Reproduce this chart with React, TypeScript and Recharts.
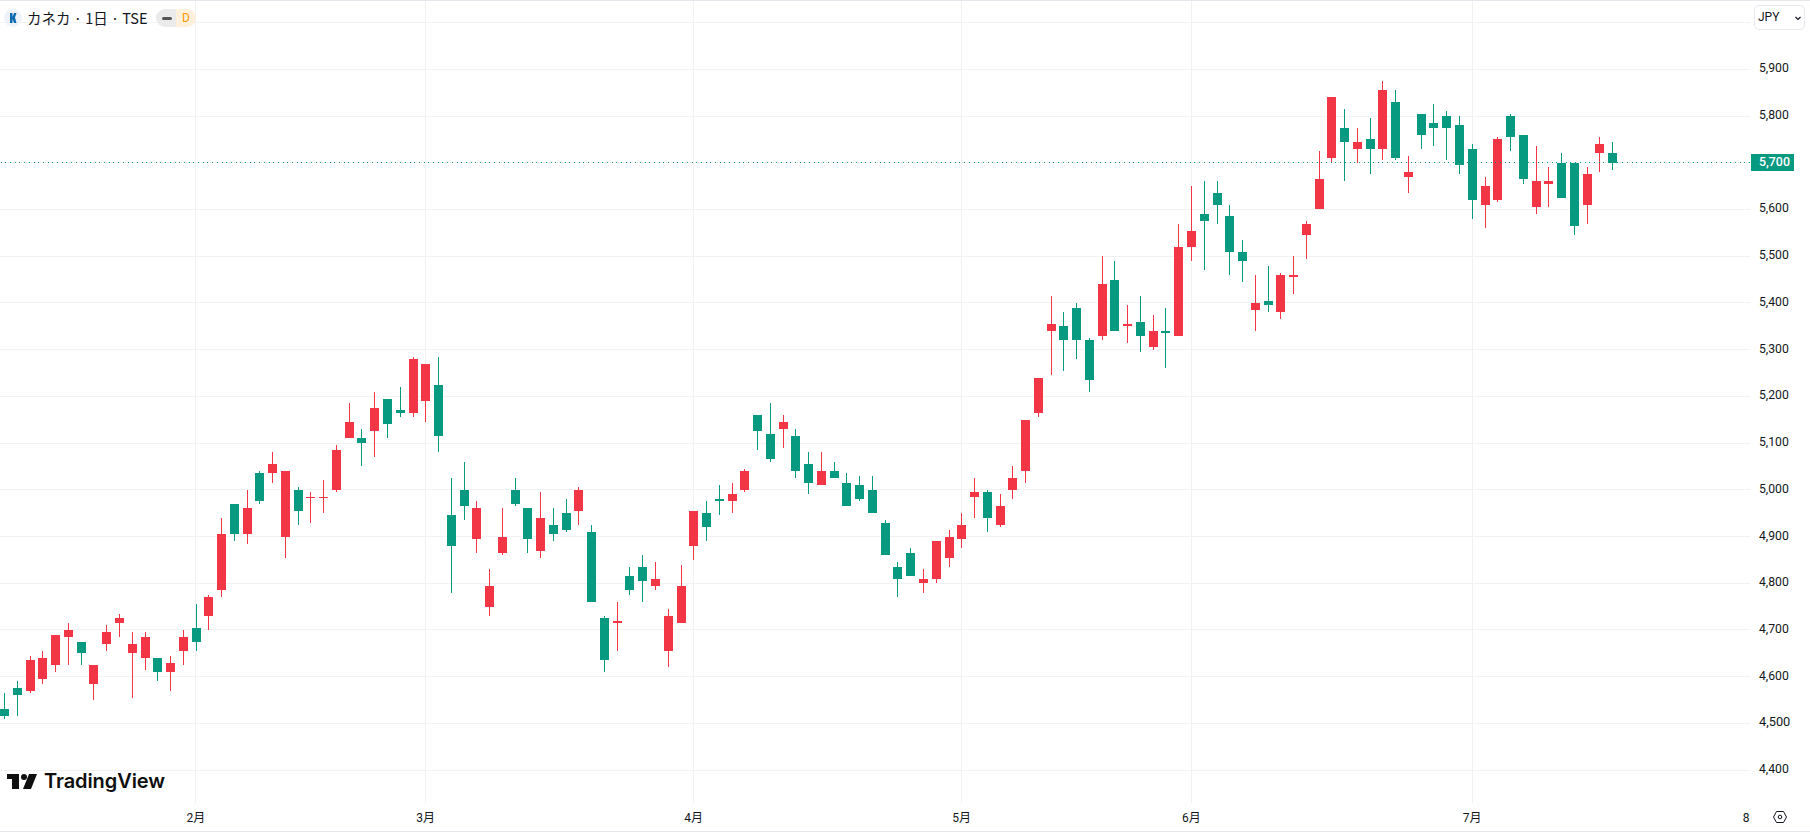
import { Bar, CartesianGrid, ComposedChart, ReferenceLine, XAxis, YAxis } from 'recharts'

const opens = [
  4530, 4575, 4570, 4595, 4625, 4685, 4675, 4585, 4670, 4715,
  4650, 4640, 4640, 4610, 4655, 4705, 4730, 4785, 4970, 4905,
  5035, 5035, 4900, 5000, 4985, 4985, 5000, 5110, 5110, 5125,
  5195, 5170, 5165, 5190, 5225, 4945, 5000, 4895, 4750, 4865,
  5000, 4960, 4870, 4925, 4950, 4955, 4910, 4725, 4715, 4815,
  4835, 4795, 4655, 4715, 4880, 4950, 4980, 4975, 5000, 5160,
  5120, 5130, 5115, 5055, 5010, 5040, 5015, 5010, 5000, 4930,
  4835, 4865, 4800, 4810, 4855, 4895, 4985, 4995, 4925, 5000,
  5040, 5165, 5340, 5350, 5390, 5320, 5330, 5450, 5350, 5360,
  5305, 5340, 5330, 5520, 5590, 5635, 5585, 5510, 5385, 5405,
  5380, 5455, 5545, 5600, 5710, 5775, 5730, 5750, 5730, 5830,
  5670, 5805, 5785, 5800, 5780, 5730, 5610, 5620, 5800, 5760,
  5605, 5655, 5700, 5700, 5610, 5720, 5720,
]
const highs = [
  4565, 4590, 4645, 4655, 4690, 4715, 4675, 4625, 4710, 4735,
  4695, 4695, 4640, 4645, 4700, 4755, 4775, 4940, 4970, 5000,
  5040, 5080, 5040, 5005, 4995, 5020, 5095, 5185, 5130, 5210,
  5195, 5220, 5285, 5270, 5285, 5025, 5060, 4975, 4830, 4960,
  5025, 4960, 4995, 4960, 4980, 5005, 4925, 4730, 4760, 4835,
  4860, 4845, 4745, 4840, 4955, 4975, 5010, 5015, 5045, 5160,
  5185, 5160, 5130, 5080, 5080, 5060, 5035, 5030, 5030, 4935,
  4845, 4875, 4830, 4890, 4915, 4950, 5025, 5000, 4990, 5050,
  5150, 5240, 5415, 5380, 5400, 5325, 5500, 5490, 5395, 5415,
  5375, 5390, 5570, 5650, 5660, 5660, 5610, 5535, 5460, 5480,
  5465, 5500, 5575, 5725, 5840, 5815, 5775, 5795, 5875, 5855,
  5715, 5805, 5825, 5810, 5800, 5740, 5670, 5755, 5805, 5760,
  5735, 5690, 5720, 5700, 5690, 5755, 5745,
]
const lows = [
  4510, 4515, 4565, 4585, 4610, 4625, 4625, 4550, 4655, 4685,
  4555, 4615, 4590, 4570, 4625, 4655, 4700, 4770, 4890, 4885,
  4970, 5015, 4855, 4925, 4930, 4950, 4995, 5110, 5050, 5070,
  5110, 5155, 5155, 5145, 5080, 4780, 4935, 4865, 4730, 4860,
  4965, 4865, 4855, 4890, 4910, 4925, 4760, 4610, 4655, 4775,
  4760, 4785, 4620, 4715, 4850, 4890, 4945, 4950, 4995, 5085,
  5060, 5090, 5025, 4990, 5010, 5025, 4965, 4975, 4950, 4860,
  4770, 4815, 4780, 4800, 4835, 4875, 4940, 4910, 4920, 4980,
  5015, 5155, 5245, 5255, 5280, 5210, 5320, 5340, 5315, 5295,
  5300, 5260, 5330, 5490, 5470, 5570, 5460, 5445, 5340, 5380,
  5365, 5420, 5495, 5600, 5700, 5660, 5700, 5675, 5705, 5705,
  5635, 5730, 5735, 5705, 5675, 5580, 5560, 5615, 5725, 5655,
  5590, 5605, 5625, 5545, 5570, 5680, 5685,
]
const closes = [
  4515, 4560, 4635, 4640, 4690, 4700, 4650, 4625, 4695, 4725,
  4670, 4685, 4610, 4630, 4685, 4675, 4770, 4905, 4905, 4960,
  4975, 5055, 5040, 4955, 4985, 4985, 5085, 5145, 5100, 5175,
  5140, 5165, 5280, 5270, 5115, 4880, 4965, 4960, 4795, 4900,
  4970, 4895, 4940, 4905, 4915, 5000, 4760, 4635, 4720, 4785,
  4805, 4810, 4730, 4795, 4955, 4920, 4975, 4990, 5040, 5125,
  5065, 5145, 5040, 5015, 5040, 5025, 4965, 4980, 4950, 4860,
  4810, 4815, 4810, 4890, 4900, 4925, 4995, 4940, 4965, 5025,
  5150, 5240, 5355, 5320, 5320, 5235, 5440, 5340, 5355, 5330,
  5340, 5335, 5520, 5555, 5575, 5610, 5510, 5490, 5400, 5395,
  5460, 5460, 5570, 5665, 5840, 5745, 5745, 5730, 5855, 5710,
  5680, 5760, 5775, 5775, 5695, 5620, 5650, 5750, 5755, 5665,
  5660, 5660, 5625, 5565, 5675, 5740, 5700,
]

const monthTicks = [15, 33, 54, 75, 93, 115, 136.46]
const monthLabels = ['2月', '3月', '4月', '5月', '6月', '7月', '8']
const gridMonths = [15, 33, 54, 75, 93, 115]
const priceTicks = [4400, 4500, 4600, 4700, 4800, 4900, 5000, 5100, 5200, 5300, 5400, 5500, 5600, 5700, 5800, 5900]
const gridPrices = [...priceTicks, 6000]
const lastPrice = 5700

const candles = opens.map((open, i) => ({ i, open, high: highs[i], low: lows[i], close: closes[i] }))

const UP = '#F23645'
const DOWN = '#089981'
const TEXT = '#131722'
const GRID = '#F2F2F3'
const FONT = 'Roboto, "Noto Sans CJK JP", sans-serif'

function Candle(props: any) {
  const { x, y, width, height, payload } = props
  const color = payload.close >= payload.open ? UP : DOWN
  const perYen = height / (payload.high - payload.low)
  const bodyTop = Math.round(y + (payload.high - Math.max(payload.open, payload.close)) * perYen)
  const bodyBottom = Math.round(y + (payload.high - Math.min(payload.open, payload.close)) * perYen)
  const cx = x + width / 2
  const wickX = Math.floor(cx) + 0.5
  return (
    <g>
      <line x1={wickX} x2={wickX} y1={Math.round(y)} y2={Math.round(y + height)} stroke={color} strokeWidth={1} />
      <rect x={wickX - 4.5} y={bodyTop} width={9} height={Math.max(bodyBottom - bodyTop, 1)} fill={color} />
    </g>
  )
}

function PriceTick(props: any) {
  const { y, payload } = props
  const v = payload.value as number
  const label = v.toLocaleString('en-US')
  if (v === lastPrice) {
    return (
      <g>
        <rect x={1751} y={154} width={43} height={17} fill={DOWN} />
        <text x={1759} y={y + 3.5} fontSize={12.4} fontWeight={500} fill="#fff" fontFamily={FONT}>{label}</text>
      </g>
    )
  }
  const strong = v === 4500
  return (
    <text x={1759} y={y + 3} fontSize={strong ? 12.8 : 12.2} fill={TEXT} fontFamily={FONT}>
      {label}
    </text>
  )
}

function Header() {
  return (
    <>
      <div style={{ position: 'absolute', left: 4, top: 9, width: 18, height: 18, borderRadius: 9, background: '#EEF3FA' }} />
      <svg style={{ position: 'absolute', left: 4, top: 9 }} width={18} height={18}>
        <path d="M6 4H8.5V8L10 4H12.5L11 8.5L12.5 14H10L8.5 10V14H6Z" fill="#0B6BB0" />
      </svg>
      <div style={{ position: 'absolute', left: 27, top: 8, fontSize: 14.5, lineHeight: '20px', color: TEXT, fontFamily: '"Noto Sans CJK JP", Roboto, sans-serif', whiteSpace: 'nowrap' }}>
        カネカ · 1日 · TSE
      </div>
      <div style={{ position: 'absolute', left: 156, top: 9, width: 20, height: 18, borderRadius: '9px 0 0 9px', background: '#EBEBEB' }} />
      <div style={{ position: 'absolute', left: 162, top: 17, width: 10, height: 3, borderRadius: 2, background: '#555' }} />
      <div style={{ position: 'absolute', left: 176, top: 9, width: 20, height: 18, borderRadius: '0 9px 9px 0', background: '#FFF0DC', color: '#FF9800', fontSize: 12, lineHeight: '18px', textAlign: 'center', fontFamily: FONT }}>
        D
      </div>
      <div style={{ position: 'absolute', left: 1754, top: 5, width: 51, height: 25, boxSizing: 'border-box', border: '1px solid #E6E8EE', borderRadius: 5, fontSize: 12, lineHeight: '23px', paddingLeft: 3, color: TEXT, fontFamily: FONT }}>
        JPY
      </div>
      <svg style={{ position: 'absolute', left: 1794, top: 14 }} width={8} height={8}>
        <path d="M1.5 3L4 5.5L6.5 3" fill="none" stroke={TEXT} strokeWidth={1.2} />
      </svg>
    </>
  )
}

function Footer() {
  return (
    <svg style={{ position: 'absolute', left: 0, top: 0, pointerEvents: 'none' }} width={1810} height={834}>
      <path d="M7 774H19V789H12V779H7Z" fill="#0F0F0F" />
      <circle cx={24} cy={777} r={3} fill="#0F0F0F" />
      <path d="M29 774H37L31 789H23Z" fill="#0F0F0F" />
      <text x={44} y={788} fontSize={20} fontWeight={600} fill="#0F0F0F" fontFamily="Inter, sans-serif" textLength={121}>
        TradingView
      </text>
      <path d="M1773.5 817L1776.5 811.5H1783.5L1786.5 817L1783.5 822.5H1776.5Z" fill="none" stroke={TEXT} strokeWidth={1} />
      <circle cx={1780} cy={817} r={1.8} fill="none" stroke={TEXT} strokeWidth={1} />
      <line x1={0} x2={1810} y1={0.5} y2={0.5} stroke="#E6E8EE" />
      <line x1={0} x2={1810} y1={831.5} y2={831.5} stroke="#E6E8EE" />
    </svg>
  )
}

export default function App() {
  return (
    <div style={{ position: 'absolute', left: 0, top: 0, width: 1810, height: 834, overflow: 'hidden', background: '#fff' }}>
      <ComposedChart
        width={1810}
        height={834}
        data={candles}
        margin={{ top: 0, right: 0, bottom: 0, left: 0 }}
      >
        <CartesianGrid stroke={GRID} verticalValues={gridMonths} horizontalValues={gridPrices} shapeRendering="crispEdges" />
        <XAxis
          type="number"
          dataKey="i"
          domain={[-0.3526, 136.77]}
          allowDataOverflow
          ticks={monthTicks}
          tickFormatter={(v) => monthLabels[monthTicks.indexOf(v)]}
          interval={0}
          height={31}
          axisLine={false}
          tickLine={false}
          tickMargin={4}
          tick={{ fontSize: 12, fill: TEXT, fontFamily: FONT }}
        />
        <YAxis
          orientation="right"
          type="number"
          domain={[4329.6, 6048.4]}
          allowDataOverflow
          ticks={priceTicks}
          interval={0}
          width={60}
          axisLine={false}
          tickLine={false}
          tick={PriceTick}
        />
        <ReferenceLine y={lastPrice} stroke={DOWN} strokeDasharray="1 3.7" shapeRendering="crispEdges" />
        <Bar dataKey={(d: any) => [d.low, d.high]} barSize={9} shape={Candle} isAnimationActive={false} />
      </ComposedChart>
      <Header />
      <Footer />
    </div>
  )
}
